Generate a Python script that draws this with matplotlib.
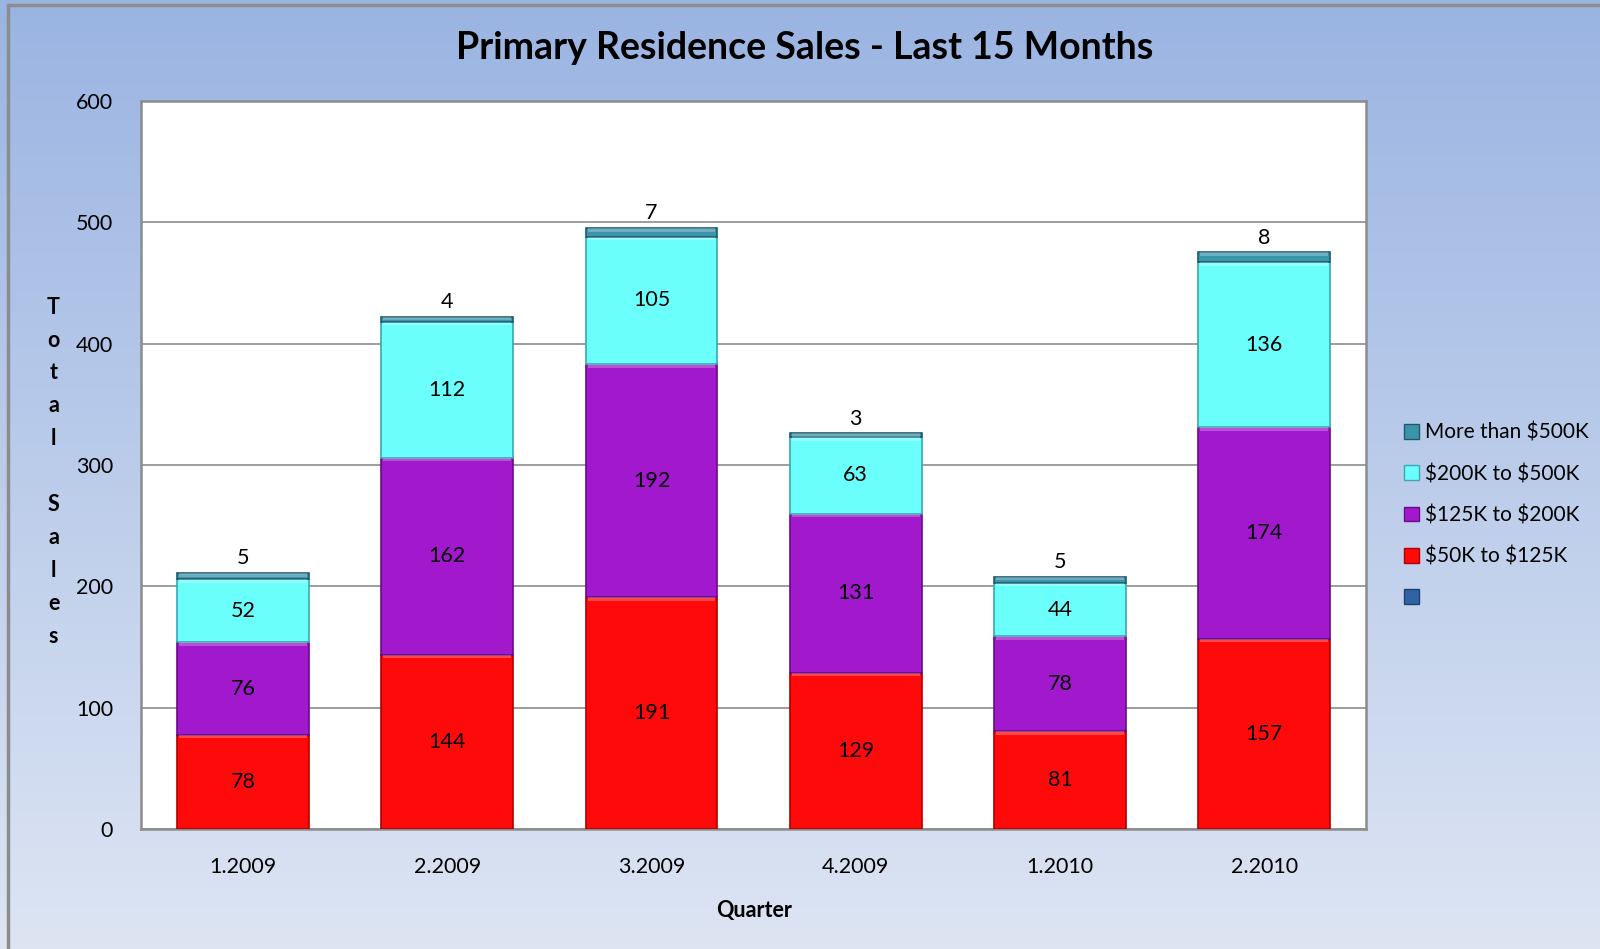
import numpy as np
import matplotlib.pyplot as plt
from matplotlib.patches import Patch, Rectangle

plt.rcParams['font.family'] = ['Lato', 'DejaVu Sans']
plt.rcParams['text.parse_math'] = False

quarters = ['1.2009', '2.2009', '3.2009', '4.2009', '1.2010', '2.2010']
s50_125 = [78, 144, 191, 129, 81, 157]
s125_200 = [76, 162, 192, 131, 78, 174]
s200_500 = [52, 112, 105, 63, 44, 136]
s500_up = [5, 4, 7, 3, 5, 8]

series = [
    ('$50K to $125K', s50_125, '#ff0a0a', '#b00000'),
    ('$125K to $200K', s125_200, '#a218cc', '#6a0a88'),
    ('$200K to $500K', s200_500, '#6bfffc', '#3aa8b0'),
    ('More than $500K', s500_up, '#3a94ac', '#1f5a6a'),
]

fig = plt.figure(figsize=(16, 9.49), dpi=100)

# gradient background
bg = fig.add_axes([0, 0, 1, 1], zorder=-10)
grad = np.linspace(0, 1, 256).reshape(-1, 1)
top_c = np.array([0x9a, 0xb4, 0xe2]) / 255
bot_c = np.array([0xdd, 0xe5, 0xf3]) / 255
img = top_c * (1 - grad[..., None]) + bot_c * grad[..., None]
bg.imshow(img, aspect='auto', extent=[0, 1, 0, 1])
bg.add_patch(Rectangle((0.005, -0.1), 1.2, 1.095, fill=False, edgecolor='#8c8c8c', lw=2.5))
bg.set_xlim(0, 1)
bg.set_ylim(0, 1)
bg.axis('off')

ax = fig.add_axes([0.088, 0.126, 0.766, 0.768])
ax.set_facecolor('white')
x = np.arange(len(quarters))
bottom = np.zeros(len(quarters))
width = 0.645
for i, (name, vals, col, edge) in enumerate(series):
    vals = np.array(vals)
    ax.bar(x, vals, width, bottom=bottom, color=col, edgecolor=edge, linewidth=1.2, zorder=3)
    # light bevel on top of each segment
    ax.bar(x, np.minimum(vals, 3), width * 0.97, bottom=bottom + vals - np.minimum(vals, 3),
           color='white', alpha=0.25, linewidth=0, zorder=4)
    for xi, b, v in zip(x, bottom, vals):
        if i == 3:
            ax.text(xi, b + v + 4, str(v), ha='center', va='bottom', fontsize=15.5, zorder=5)
        else:
            ax.text(xi, b + v / 2, str(v), ha='center', va='center', fontsize=15.5, zorder=5)
    bottom = bottom + vals

ax.set_xlim(-0.5, 5.5)
ax.set_ylim(0, 600)
ax.set_yticks(range(0, 601, 100))
ax.set_xticks(x)
ax.set_xticklabels(quarters)
ax.tick_params(axis='both', length=0, labelsize=15.5)
ax.tick_params(axis='x', pad=20)
ax.tick_params(axis='y', pad=20)
ax.yaxis.grid(True, color='#8c8c8c', lw=1.2, zorder=0)
ax.set_axisbelow(True)
for sp in ax.spines.values():
    sp.set_color('#8c8c8c')
    sp.set_linewidth(1.8)

fig.text(0.503, 0.949, 'Primary Residence Sales - Last 15 Months', ha='center', va='center',
         fontsize=27, fontweight='bold')
fig.text(0.471, 0.041, 'Quarter', ha='center', va='center', fontsize=15.5, fontweight='bold')
fig.text(0.0335, 0.503, 'T\no\nt\na\nl\n\nS\na\nl\ne\ns', ha='center', va='center',
         fontsize=15.5, fontweight='bold', linespacing=1.7)

handles = [Patch(facecolor=c, edgecolor=e) for _, _, c, e in reversed(series)]
labels = [name for name, _, _, _ in reversed(series)]
handles.append(Patch(facecolor='#2e64a6', edgecolor='#1c3f6e'))
labels.append('')
fig.legend(handles, labels, loc='center left', bbox_to_anchor=(0.866, 0.457), frameon=False,
           fontsize=15, handlelength=0.7, handleheight=0.7, handletextpad=0.3, labelspacing=1.02)

fig.savefig('out.png', dpi=100)
